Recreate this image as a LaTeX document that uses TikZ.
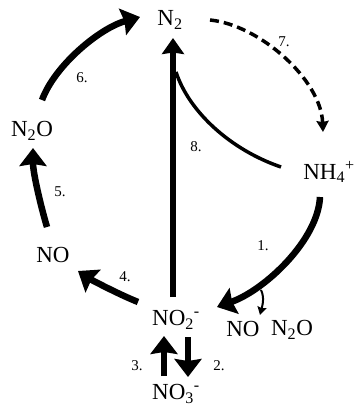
\documentclass[tikz,border=0pt]{standalone}
\usepackage{fontspec}
\setmainfont{Liberation Serif}
\usetikzlibrary{arrows.meta}
\begin{document}
\begin{tikzpicture}[x=1pt,y=-1pt,
  chem/.style={font=\fontsize{23}{25}\selectfont, inner sep=0pt},
  num/.style={font=\fontsize{15}{17}\selectfont, inner sep=0pt},
  thickarr/.style={line width=6.5pt, -{Stealth[length=18pt,width=27pt,inset=2pt]}},
  midarr/.style={line width=6pt, -{Stealth[length=16pt,width=22pt,inset=1.5pt]}},
  thinline/.style={line width=3.5pt},
  dasharr/.style={line width=3.5pt, dash pattern=on 9pt off 5pt, -{Stealth[length=11pt,width=12pt,inset=1pt]}},
  smallarr/.style={line width=2pt, -{Stealth[length=8pt,width=9pt,inset=1pt]}}]
\useasboundingbox (0,0) rectangle (356,408);
\fill[white] (0,0) rectangle (356,408);
% species
\node[chem] (n2)   at (170,20)  {N\textsubscript{2}};
\node[chem] (n2o)  at (32,131)  {N\textsubscript{2}O};
\node[chem] (nh4)  at (329,172) {NH\textsubscript{4}\textsuperscript{+}};
\node[chem] (no)   at (53,255)  {NO};
\node[chem] (no2)  at (176,320) {NO\textsubscript{2}\textsuperscript{-}};
\node[chem] (no3)  at (176,394) {NO\textsubscript{3}\textsuperscript{-}};
\node[chem] (nob)  at (243,329) {NO};
\node[chem] (n2ob) at (292,330) {N\textsubscript{2}O};
% step numbers
\node[num] (l1) at (263,246) {1.};
\node[num] (l2) at (219,366) {2.};
\node[num] (l3) at (137,366) {3.};
\node[num] (l4) at (125,277) {4.};
\node[num] (l5) at (60,192)  {5.};
\node[num] (l6) at (82,78)   {6.};
\node[num] (l7) at (284,42)  {7.};
\node[num] (l8) at (196,147) {8.};
% 6: N2O -> N2
\draw[thickarr] ([shift={(10,-31)}]n2o.center) .. controls +(13,-35) and +(-40,11) .. ([shift={(-30,-3)}]n2.center);
% 5: NO -> N2O
\draw[thickarr] ([shift={(-6,-28)}]no.center) .. controls +(-6,-20) and +(0,25) .. ([shift={(1,17)}]n2o.center);
% 4: NO2- -> NO
\draw[thickarr] ([shift={(-38,-18)}]no2.center) .. controls +(-20,-8) and +(12,8) .. ([shift={(25,16)}]no.center);
% 8: NO2- -> N2
\draw[midarr] ([shift={(-3,-23)}]no2.center) -- ([shift={(3,18)}]n2.center);
\draw[thinline] ([shift={(-48,-5)}]nh4.center) .. controls +(-50,-17) and +(13,40) .. ([shift={(6,52)}]n2.center);
% 7: N2 -> NH4+
\draw[dasharr] ([shift={(40,0)}]n2.center) .. controls +(50,5) and +(-2,-52) .. ([shift={(-6,-40)}]nh4.center);
% 1: NH4+ -> NO2-
\draw[thickarr] ([shift={(-9,25)}]nh4.center) .. controls +(-2,43) and +(48,-17) .. ([shift={(41,-13)}]no2.center);
\coordinate (br) at (261,290);
\draw[smallarr] (br) .. controls +(4,8) and +(2,-8) .. ([shift={(-32,-15)}]n2ob.center);
% 3 and 2
\draw[thickarr] ([shift={(-12,-18)}]no3.center) -- ([shift={(-12,16)}]no2.center);
\draw[thickarr] ([shift={(12,17)}]no2.center) -- ([shift={(12,-17)}]no3.center);
\end{tikzpicture}
\end{document}
